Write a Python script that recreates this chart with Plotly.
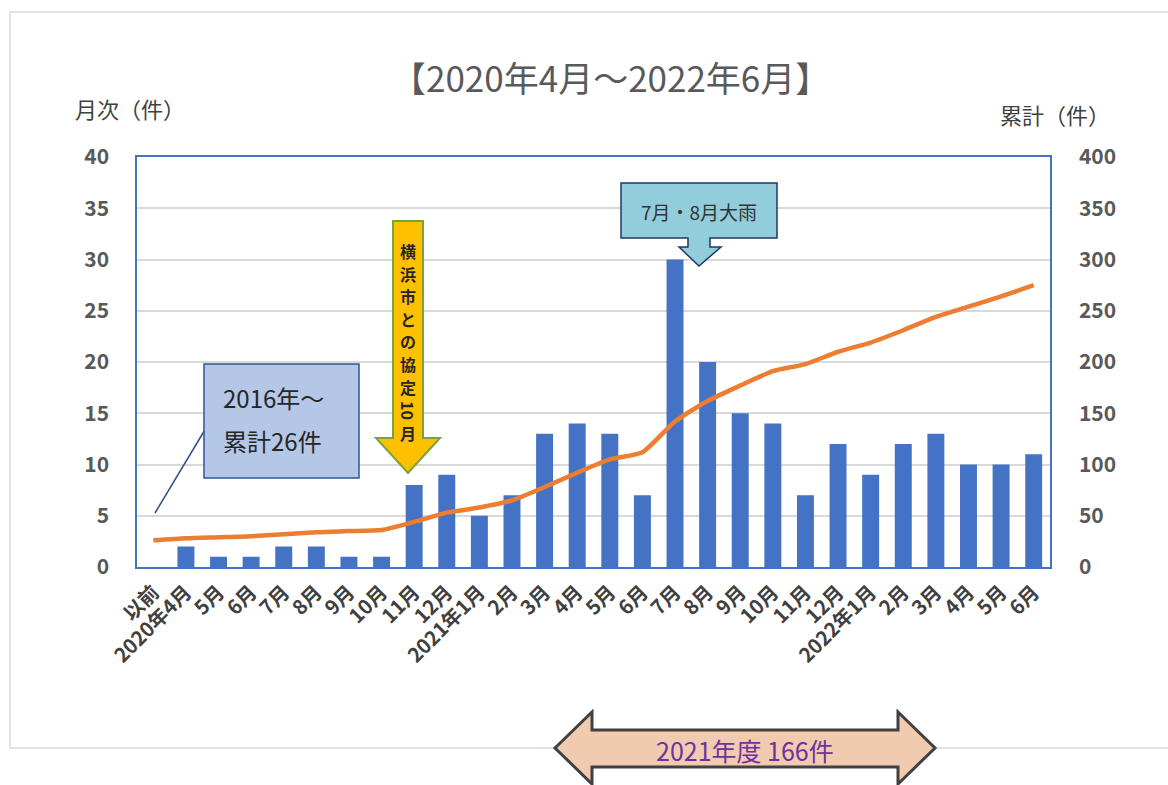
import plotly.graph_objects as go

categories = ["以前", "2020年4月", "5月", "6月", "7月", "8月", "9月", "10月", "11月", "12月",
              "2021年1月", "2月", "3月", "4月", "5月", "6月", "7月", "8月", "9月", "10月", "11月", "12月",
              "2022年1月", "2月", "3月", "4月", "5月", "6月"]
monthly = [None, 2, 1, 1, 2, 2, 1, 1, 8, 9, 5, 7, 13, 14, 13, 7, 30, 20, 15, 14, 7, 12, 9, 12, 13, 10, 10, 11]
cumulative = [26, 28, 29, 30, 32, 34, 35, 36, 44, 53, 58, 65, 78, 92, 105, 112, 142, 162, 177, 191, 198,
              210, 219, 231, 244, 254, 264, 275]
left_ticks = [0, 5, 10, 15, 20, 25, 30, 35, 40]
right_ticks = [0, 50, 100, 150, 200, 250, 300, 350, 400]

xkeys = list(range(len(categories)))

W, H = 1168, 785
L, R, T, B = 137, 1050, 157, 567
JP = "Noto Sans CJK JP"


def px(x):
    return (x - L) / (R - L)


def py(y):
    return (B - y) / (B - T)


def path(points):
    return "M " + " L ".join(f"{px(x):.5f},{py(y):.5f}" for x, y in points) + " Z"


fig = go.Figure()
fig.add_trace(go.Bar(x=xkeys, y=monthly, marker=dict(color="#4472C4", line=dict(width=0)),
                     yaxis="y", name="月次"))
fig.add_trace(go.Scatter(x=xkeys, y=cumulative, mode="lines", yaxis="y2", name="累計",
                         line=dict(color="#ED7D31", width=4.5, shape="spline", smoothing=0.6)))

shapes = []
shapes.append(dict(type="rect", xref="paper", yref="paper", x0=px(10), x1=px(1300), y0=py(748), y1=py(12),
                   line=dict(color="#D9D9D9", width=1.5), fillcolor="rgba(0,0,0,0)", layer="below"))
shapes.append(dict(type="line", xref="paper", yref="paper", x0=px(155), y0=py(513), x1=px(206), y1=py(428),
                   line=dict(color="#2F4E84", width=1.5)))
shapes.append(dict(type="rect", xref="paper", yref="paper", x0=px(204), x1=px(359), y0=py(478), y1=py(364),
                   fillcolor="#B4C7E7", line=dict(color="#2F5597", width=1.5)))
shapes.append(dict(type="path", xref="paper", yref="paper",
                   path=path([(393, 221), (423, 221), (423, 438), (440, 438), (408, 473),
                              (376, 438), (393, 438)]),
                   fillcolor="#FFC000", line=dict(color="#7AA33C", width=2)))
shapes.append(dict(type="path", xref="paper", yref="paper",
                   path=path([(621, 183), (777, 183), (777, 238), (710, 238), (710, 247), (721, 247),
                              (699, 266), (679, 247), (688, 247), (688, 238), (621, 238)]),
                   fillcolor="#92CDDC", line=dict(color="#1F3864", width=1.5)))
shapes.append(dict(type="path", xref="paper", yref="paper",
                   path=path([(555, 748), (592, 712), (592, 730), (898, 730), (898, 712), (935, 748),
                              (898, 784), (898, 767), (592, 767), (592, 784)]),
                   fillcolor="#F1CBB0", line=dict(color="#404040", width=3)))

annotations = []


def text(x, y, s, size, color, anchor="center", angle=0):
    annotations.append(dict(xref="paper", yref="paper", x=px(x), y=py(y), text=s, showarrow=False,
                            font=dict(family=JP, size=size, color=color), textangle=angle,
                            xanchor=anchor, yanchor="middle", borderpad=0))


text(610, 76, "【2020年4月～2022年6月】", 35, "#595959")
text(74, 108, "月次（件）", 22, "#404040", "left")
text(999, 114, "累計（件）", 22, "#404040", "left")
text(222, 397, "2016年～", 24, "#262626", "left")
text(222, 440, "累計26件", 24, "#262626", "left")
vchars = "横浜市との協定"
for i, ch in enumerate(vchars):
    text(408, 251 + i * 22.6, f"<b>{ch}</b>", 16, "#262626")
text(408, 410, "<b>10</b>", 16, "#262626", angle=90)
text(408, 433, "<b>月</b>", 16, "#262626")
text(699, 211, "7月・8月大雨", 19, "#333333")
text(745, 750, "2021年度 166件", 25, "#7030A0")

fig.update_layout(
    width=W, height=H,
    margin=dict(l=L, r=W - R, t=T, b=H - B, pad=0),
    paper_bgcolor="white", plot_bgcolor="white",
    showlegend=False, bargap=0.48,
    font=dict(family=JP),
    xaxis=dict(tickmode="array", tickvals=xkeys, ticktext=[f"<b>{c}</b>" for c in categories],
               tickangle=-45, tickfont=dict(family=JP, size=20, color="#404040"),
               range=[-0.5, len(categories) - 0.5], showgrid=False, zeroline=False,
               showline=True, linecolor="#4472C4", linewidth=1.5, mirror=True,
               ticks="outside", ticklen=4, tickcolor="rgba(0,0,0,0)"),
    yaxis=dict(range=[0, 40], tickvals=left_ticks, ticktext=[f"<b>{v}</b>" for v in left_ticks],
               tickfont=dict(family=JP, size=21, color="#595959"),
               showgrid=True, gridcolor="#D9D9D9", gridwidth=1.5, zeroline=False,
               showline=True, linecolor="#4472C4", linewidth=1.5,
               ticks="outside", ticklen=22, tickcolor="rgba(0,0,0,0)"),
    yaxis2=dict(range=[0, 400], tickvals=right_ticks, ticktext=[f"<b>{v}</b>" for v in right_ticks],
                tickfont=dict(family=JP, size=21, color="#595959"),
                overlaying="y", side="right", showgrid=False, zeroline=False,
                showline=True, linecolor="#4472C4", linewidth=1.5,
                ticks="outside", ticklen=23, tickcolor="rgba(0,0,0,0)"),
    shapes=shapes, annotations=annotations,
)

fig.write_html("out.html", config={"displayModeBar": False},
               post_script="document.body.style.margin='0px';")
